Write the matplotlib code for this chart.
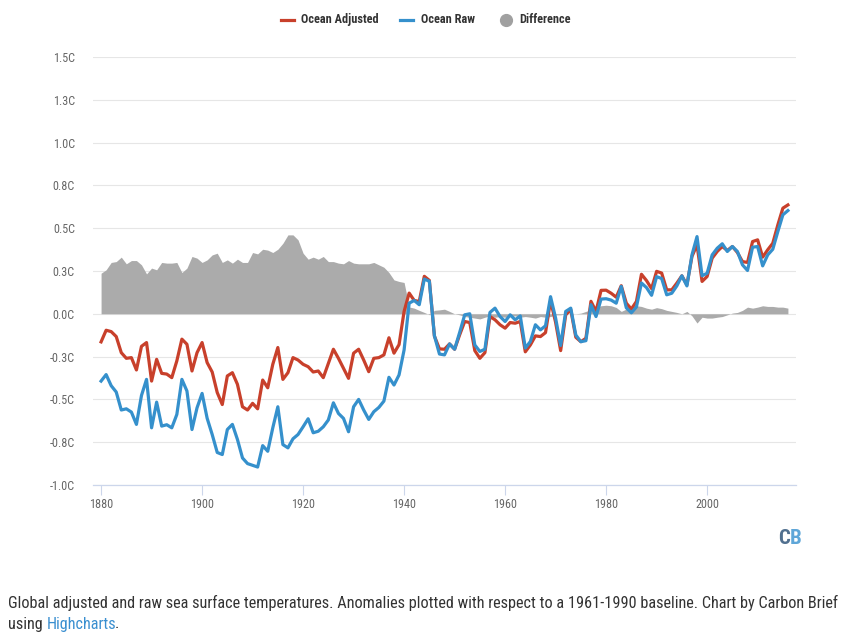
import numpy as np
import matplotlib
matplotlib.use("Agg")
import matplotlib.pyplot as plt
from matplotlib.lines import Line2D
from matplotlib import font_manager as fm

# ---------------- data ----------------
years = list(range(1880, 2017))

ocean_adjusted = [
    -0.164, -0.096, -0.104, -0.133, -0.227, -0.260, -0.256, -0.328, -0.190, -0.168,
    -0.393, -0.266, -0.348, -0.352, -0.373, -0.275, -0.148, -0.178, -0.334, -0.227,
    -0.168, -0.285, -0.340, -0.460, -0.530, -0.363, -0.344, -0.412, -0.543, -0.562,
    -0.523, -0.555, -0.387, -0.432, -0.295, -0.197, -0.383, -0.344, -0.256, -0.270,
    -0.295, -0.309, -0.340, -0.334, -0.373, -0.290, -0.207, -0.260, -0.318, -0.377,
    -0.230, -0.207, -0.270, -0.338, -0.260, -0.256, -0.240, -0.140, -0.230, -0.180,
    0.014, 0.121, 0.078, 0.072, 0.219, 0.195, -0.130, -0.205, -0.207, -0.176,
    -0.207, -0.123, -0.045, -0.051, -0.215, -0.260, -0.227, -0.016, -0.035, -0.064,
    -0.084, -0.051, -0.055, -0.045, -0.222, -0.182, -0.129, -0.133, -0.110, 0.077,
    -0.050, -0.215, -0.006, 0.024, -0.137, -0.163, -0.143, 0.073, 0.014, 0.137,
    0.138, 0.120, 0.097, 0.164, 0.062, 0.028, 0.072, 0.231, 0.194, 0.147,
    0.248, 0.238, 0.140, 0.140, 0.179, 0.222, 0.169, 0.335, 0.403, 0.189,
    0.218, 0.325, 0.364, 0.393, 0.370, 0.393, 0.358, 0.305, 0.300, 0.422,
    0.432, 0.331, 0.374, 0.412, 0.519, 0.617, 0.636,
]

ocean_raw = [
    -0.393, -0.355, -0.420, -0.457, -0.562, -0.555, -0.574, -0.646, -0.477, -0.383,
    -0.666, -0.516, -0.656, -0.648, -0.666, -0.588, -0.383, -0.451, -0.676, -0.549,
    -0.465, -0.610, -0.705, -0.810, -0.822, -0.676, -0.646, -0.734, -0.842, -0.875,
    -0.885, -0.895, -0.770, -0.803, -0.666, -0.543, -0.764, -0.783, -0.730, -0.705,
    -0.660, -0.613, -0.695, -0.686, -0.660, -0.620, -0.520, -0.582, -0.611, -0.689,
    -0.543, -0.500, -0.562, -0.617, -0.572, -0.547, -0.510, -0.371, -0.416, -0.357,
    -0.211, 0.062, 0.078, 0.053, 0.203, 0.190, -0.128, -0.235, -0.240, -0.176,
    -0.207, -0.109, -0.006, 0.000, -0.182, -0.220, -0.207, 0.008, 0.033, -0.016,
    -0.045, -0.006, -0.035, -0.012, -0.200, -0.162, -0.064, -0.094, -0.070, 0.100,
    -0.025, -0.185, 0.014, 0.033, -0.124, -0.163, -0.157, 0.053, -0.016, 0.086,
    0.088, 0.080, 0.062, 0.160, 0.035, 0.006, 0.040, 0.180, 0.153, 0.108,
    0.217, 0.206, 0.111, 0.120, 0.163, 0.222, 0.163, 0.344, 0.451, 0.222,
    0.237, 0.344, 0.383, 0.409, 0.364, 0.393, 0.364, 0.286, 0.253, 0.389,
    0.393, 0.280, 0.344, 0.377, 0.480, 0.578, 0.603,
]

difference = [
    0.237, 0.257, 0.300, 0.305, 0.331, 0.292, 0.311, 0.311, 0.286, 0.233,
    0.267, 0.257, 0.300, 0.296, 0.296, 0.300, 0.241, 0.267, 0.335, 0.325,
    0.300, 0.315, 0.344, 0.354, 0.300, 0.315, 0.296, 0.319, 0.300, 0.300,
    0.358, 0.350, 0.377, 0.372, 0.358, 0.377, 0.412, 0.461, 0.461, 0.432,
    0.354, 0.319, 0.331, 0.319, 0.335, 0.305, 0.305, 0.296, 0.292, 0.311,
    0.296, 0.292, 0.292, 0.292, 0.300, 0.286, 0.272, 0.241, 0.198, 0.189,
    0.183, 0.040, 0.033, 0.020, 0.008, -0.005, 0.020, 0.023, 0.027, 0.014,
    0.000, -0.006, -0.016, -0.020, -0.025, -0.030, -0.020, -0.012, -0.020, -0.016,
    -0.020, -0.016, -0.012, -0.020, -0.016, -0.020, -0.025, -0.016, -0.020, -0.016,
    -0.006, -0.006, 0.000, 0.000, 0.000, 0.004, 0.014, 0.025, 0.040, 0.047,
    0.050, 0.047, 0.037, 0.014, 0.028, 0.038, 0.047, 0.043, 0.033, 0.027,
    0.036, 0.030, 0.020, 0.014, 0.008, 0.000, 0.014, -0.012, -0.054, -0.020,
    -0.025, -0.025, -0.020, -0.016, -0.006, 0.004, 0.008, 0.020, 0.039, 0.033,
    0.039, 0.047, 0.043, 0.043, 0.039, 0.039, 0.033,
]

y_ticks = [-1.0, -0.75, -0.5, -0.25, 0.0, 0.25, 0.5, 0.75, 1.0, 1.25, 1.5]
y_tick_labels = ["-1.0C", "-0.8C", "-0.5C", "-0.3C", "0.0C", "0.3C",
                 "0.5C", "0.8C", "1.0C", "1.3C", "1.5C"]
x_ticks = [1880, 1900, 1920, 1940, 1960, 1980, 2000]
series_names = ["Ocean Adjusted", "Ocean Raw", "Difference"]

caption_line1 = ("Global adjusted and raw sea surface temperatures. Anomalies plotted "
                 "with respect to a 1961-1990 baseline. Chart by Carbon Brief")
caption_pre, caption_link, caption_post = "using ", "Highcharts", "."

# ---------------- style ----------------
RED = "#c8402b"
BLUE = "#3590cc"
GREY = "#ababab"
names = {f.name for f in fm.fontManager.ttflist}
FONT = "DejaVu Sans"
for cand in ["Liberation Sans Narrow", "Roboto Condensed", "Open Sans Condensed", "Roboto"]:
    if cand in names:
        FONT = cand
        break
plt.rcParams["font.family"] = [FONT, "DejaVu Sans"]

W, H = 864, 636
fig = plt.figure(figsize=(W / 100, H / 100), dpi=100)
fig.patch.set_facecolor("white")

def fx(px):
    return px / W

def fy(py):
    return 1 - py / H

left, right, top, bottom = 93, 796, 57, 485
ax = fig.add_axes([fx(left), fy(bottom), fx(right - left), (bottom - top) / H])

ax.fill_between(years, 0, difference, color=GREY, lw=0, zorder=2)
ax.plot(years, ocean_adjusted, color=RED, lw=2.3, zorder=3, solid_joinstyle="round")
ax.plot(years, ocean_raw, color=BLUE, lw=2.3, zorder=4, solid_joinstyle="round")

ax.set_xlim(1878.4, 2017.6)
ax.set_ylim(-1.0, 1.5)
ax.set_yticks(y_ticks)
ax.set_yticklabels(y_tick_labels)
ax.set_xticks(x_ticks)
ax.set_xticklabels([str(t) for t in x_ticks])
ax.grid(axis="y", color="#e6e6e6", lw=0.8, zorder=0)
ax.set_axisbelow(True)
for s in ["top", "right", "left"]:
    ax.spines[s].set_visible(False)
ax.spines["bottom"].set_color("#ccd6eb")
ax.spines["bottom"].set_linewidth(0.9)
ax.spines["bottom"].set_zorder(5)
ax.tick_params(axis="y", length=0, pad=13, labelsize=8.7, labelcolor="#666666")
ax.tick_params(axis="x", length=7, width=0.8, color="#ccd6eb", pad=2,
               labelsize=8.7, labelcolor="#666666")

# ---------------- legend ----------------
ly = fy(19.5)
fig.add_artist(Line2D([fx(281), fx(294)], [ly, ly], color=RED, lw=2.3,
                      transform=fig.transFigure))
fig.text(fx(301), ly, series_names[0], fontsize=8.8, fontweight="bold",
         color="#333333", ha="left", va="center")
fig.add_artist(Line2D([fx(400), fx(413)], [ly, ly], color=BLUE, lw=2.3,
                      transform=fig.transFigure))
fig.text(fx(421), ly, series_names[1], fontsize=8.8, fontweight="bold",
         color="#333333", ha="left", va="center")
fig.add_artist(Line2D([fx(506)], [ly], color="#a0a0a0", marker="o", markersize=8.5,
                      lw=0, transform=fig.transFigure))
fig.text(fx(519), ly, series_names[2], fontsize=8.8, fontweight="bold",
         color="#333333", ha="left", va="center")

# ---------------- CB logo ----------------
fig.text(fx(790), fy(538), "C", fontsize=15, fontweight="bold", color="#51708f",
         ha="right", va="center")
fig.text(fx(789.5), fy(538), "B", fontsize=15, fontweight="bold", color="#5ea6d8",
         ha="left", va="center")

# ---------------- caption ----------------
CAP = 11.7
fig.text(fx(8), fy(603), caption_line1, fontsize=CAP, color="#333333",
         ha="left", va="center")
renderer = fig.canvas.get_renderer()
t1 = fig.text(fx(8), fy(624), caption_pre, fontsize=CAP, color="#333333",
              ha="left", va="center")
w1 = t1.get_window_extent(renderer).width
t2 = fig.text(fx(8 + w1), fy(624), caption_link, fontsize=CAP, color="#3a8fd0",
              ha="left", va="center")
w2 = t2.get_window_extent(renderer).width
fig.text(fx(8 + w1 + w2 - 1.5), fy(624), caption_post, fontsize=CAP, color="#333333",
         ha="left", va="center")

fig.savefig("out.png", dpi=100, facecolor="white")
